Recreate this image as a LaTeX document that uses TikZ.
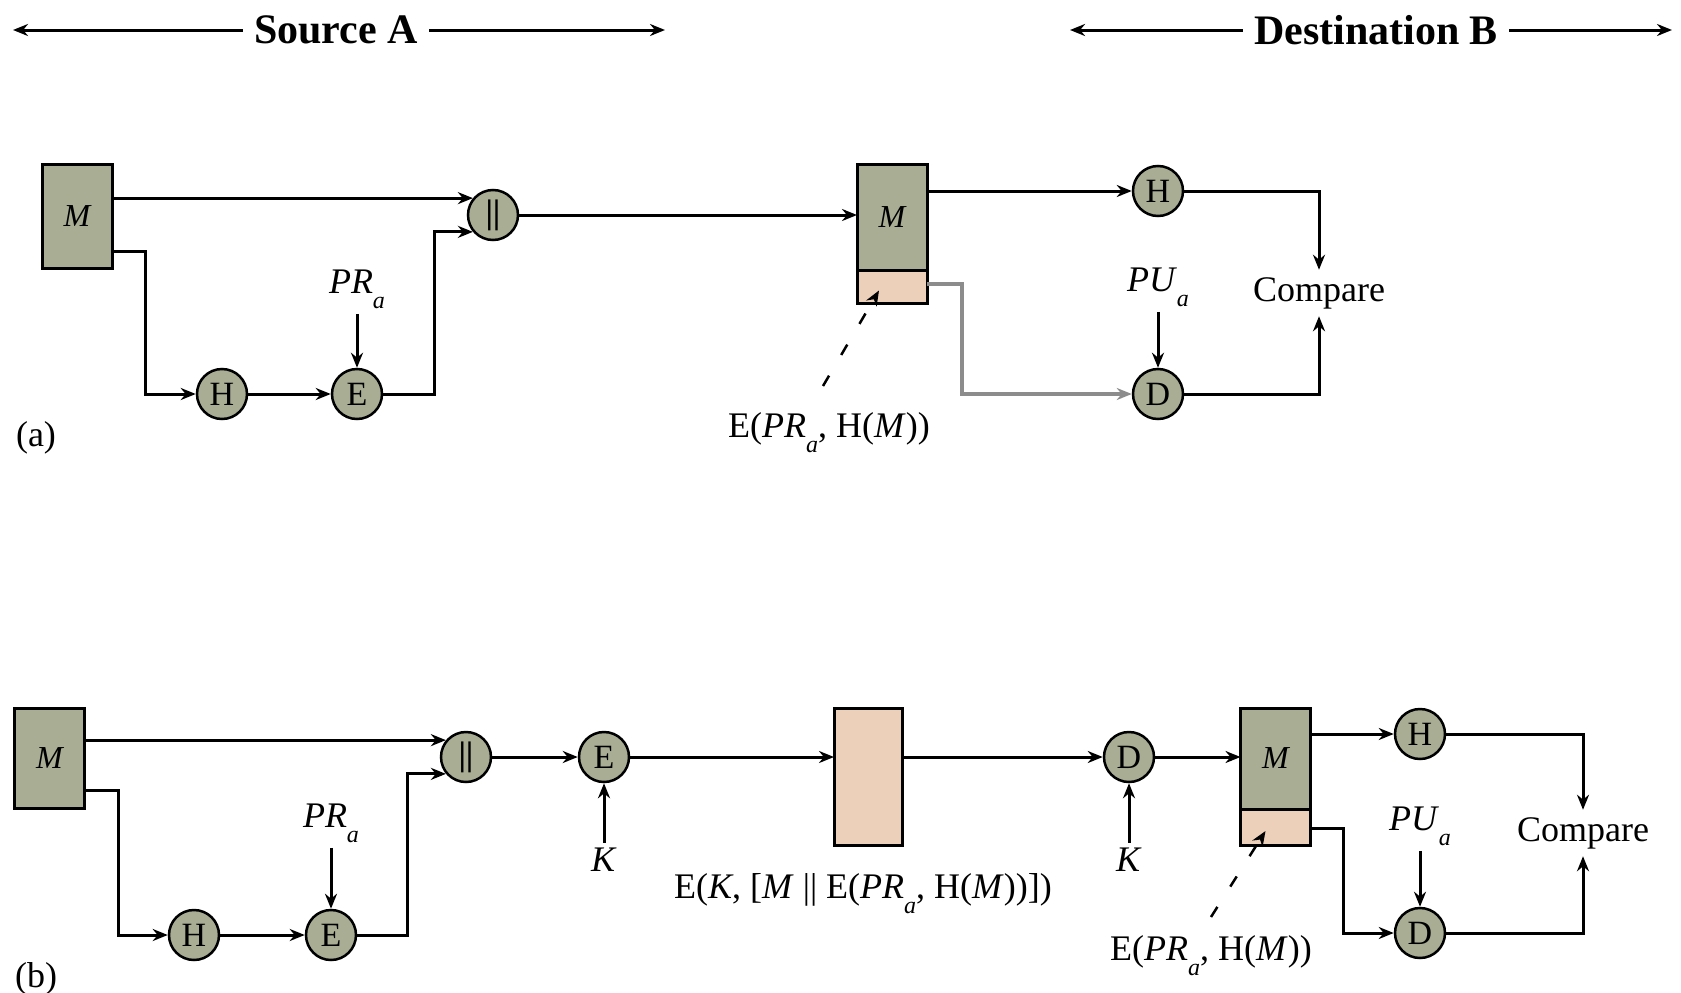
\documentclass[tikz,border=0pt]{standalone}
\usepackage{fontspec}
\usepackage{graphicx}
\setmainfont{Liberation Serif}
\usetikzlibrary{arrows.meta,calc}
\definecolor{sage}{RGB}{168,173,148}
\definecolor{peach}{RGB}{236,208,186}
\definecolor{gline}{RGB}{140,140,140}
\newcommand\subA[1]{\raisebox{-0.9ex}{\fontsize{24}{24}\selectfont\textit{#1}}}
\begin{document}
\begin{tikzpicture}[x=1pt,y=-1pt,
  line width=3pt,
  arr/.style={-{Stealth[length=15pt,width=12pt]}},
  op/.style={circle,draw,fill=sage,line width=2.5pt,minimum size=50pt,inner sep=0pt,font=\fontsize{34}{34}\selectfont},
  msgbox/.style={draw,fill=sage,line width=3pt,outer sep=0pt,minimum width=70pt,inner sep=0pt,font=\fontsize{32}{32}\selectfont\itshape},
  sigbox/.style={draw,fill=peach,line width=3pt,outer sep=0pt,minimum width=70pt,inner sep=0pt},
  lbl/.style={font=\fontsize{36}{38}\selectfont,inner sep=4pt},
  hdr/.style={font=\fontsize{42}{42}\selectfont\bfseries,inner sep=10pt},
  dsh/.style={arr,line width=2.5pt,dash pattern=on 12pt off 24pt},
]
\useasboundingbox (0,0) rectangle (1681,993);

% header
\node[hdr] (srcA) at (336,30) {Source A};
\coordinate (srcL) at (13,30);
\coordinate (srcR) at (665,30);
\draw[arr] (srcA.west) -- (srcL);
\draw[arr] (srcA.east) -- (srcR);
\node[hdr] (dstB) at (1376,30) {Destination B};
\coordinate (dstL) at (1070,30);
\coordinate (dstR) at (1672,30);
\draw[arr] (dstB.west) -- (dstL);
\draw[arr] (dstB.east) -- (dstR);

% ---------------- (a)
\node[msgbox,minimum height=104pt] (Ma) at (77,216) {M};
\node[op] (cA) at (493,215) {\textbf{||}};
\node[op] (HA) at (222,394) {H};
\node[op] (EA) at (357,394) {E};
\node[lbl] (PRA) at (357,289) {\textit{PR}\subA{a}};
\draw[arr] (Ma.east |- cA.140) -- (cA.140);
\coordinate (a1) at (145,251);
\draw[arr] (Ma.east |- a1) -| (a1 |- HA) -- (HA);
\draw[arr] (HA) -- (EA);
\draw[arr] (PRA) -- (EA);
\coordinate (a2) at (434,0);
\draw[arr] (EA) -| (a2 |- cA.220) -- (cA.220);

\node[msgbox,minimum height=106pt,anchor=south] (MA2) at (892,270) {M};
\node[sigbox,minimum height=33pt,anchor=north] (PA2) at (892,270) {};
\draw[arr] (cA) -- (MA2.west |- cA);
\node[op] (HA2) at (1158,191) {H};
\draw[arr] (MA2.east |- HA2) -- (HA2);
\node[lbl,inner sep=6pt] (cmpA) at (1319,293) {Compare};
\draw[arr] (HA2) -| (cmpA);
\node[op] (DA2) at (1158,394) {D};
\node[lbl] (PUA) at (1158,287) {\textit{PU}\subA{a}};
\draw[arr] (PUA) -- (DA2);
\coordinate (a3) at (962,284);
\draw[arr,draw=gline,line width=3.5pt] (PA2.east |- a3) -| (a3 |- DA2) -- (DA2);
\draw[arr] (DA2) -| (cmpA);
\node[lbl] (lblA) at (829,433) {E(\textit{PR}\subA{a}, H(\textit{M}))};
\coordinate (a4) at (823,386);
\draw[dsh] (a4) -- ([xshift=-13pt,yshift=-4pt]PA2.center);
\node[lbl] (la) at (36,438) {(a)};

% ---------------- (b)
\node[msgbox,minimum height=100pt] (Mb) at (49.5,758) {M};
\node[op] (cB) at (466,757) {\textbf{||}};
\draw[arr] (Mb.east |- cB.140) -- (cB.140);
\coordinate (b1) at (118,790);
\node[op] (HB) at (194,935) {H};
\node[op] (EB) at (331,935) {E};
\node[lbl] (PRB) at (331,823) {\textit{PR}\subA{a}};
\draw[arr] (Mb.east |- b1) -| (b1 |- HB) -- (HB);
\draw[arr] (HB) -- (EB);
\draw[arr] (PRB) -- (EB);
\coordinate (b2) at (407,0);
\draw[arr] (EB) -| (b2 |- cB.220) -- (cB.220);
\node[op] (EB2) at (604,757) {E};
\draw[arr] (cB) -- (EB2);
\node[lbl] (KB1) at (604,860) {\textit{K}};
\draw[arr] (KB1) -- (EB2);
\node[sigbox,minimum width=68pt,minimum height=137pt] (CB) at (868,776.5) {};
\draw[arr] (EB2) -- (CB.west |- EB2);
\node[lbl] (lblB) at (863,894) {E(\textit{K}, [\textit{M} || E(\textit{PR}\subA{a}, H(\textit{M}))])};
\node[op] (DB) at (1129,757) {D};
\draw[arr] (CB.east |- DB) -- (DB);
\node[lbl] (KB2) at (1129,860) {\textit{K}};
\draw[arr] (KB2) -- (DB);
\node[msgbox,minimum height=101pt,anchor=south] (MB3) at (1275.5,809) {M};
\node[sigbox,minimum height=36pt,anchor=north] (PB3) at (1275.5,809) {};
\draw[arr] (DB) -- (MB3.west |- DB);
\node[op] (HB3) at (1420,734) {H};
\draw[arr] (MB3.east |- HB3) -- (HB3);
\node[lbl,inner sep=6pt] (cmpB) at (1583,833) {Compare};
\draw[arr] (HB3) -| (cmpB);
\node[op] (DB3) at (1420,933) {D};
\node[lbl] (PUB) at (1420,826) {\textit{PU}\subA{a}};
\draw[arr] (PUB) -- (DB3);
\coordinate (b3) at (1343,828);
\draw[arr] (PB3.east |- b3) -| (b3 |- DB3) -- (DB3);
\draw[arr] (DB3) -| (cmpB);
\node[lbl] (lblB2) at (1211,956) {E(\textit{PR}\subA{a}, H(\textit{M}))};
\coordinate (b4) at (1211,917);
\draw[dsh] (b4) -- ([xshift=-10pt,yshift=-4pt]PB3.center);
\node[lbl] (lb) at (36,979) {(b)};
\end{tikzpicture}
\end{document}
